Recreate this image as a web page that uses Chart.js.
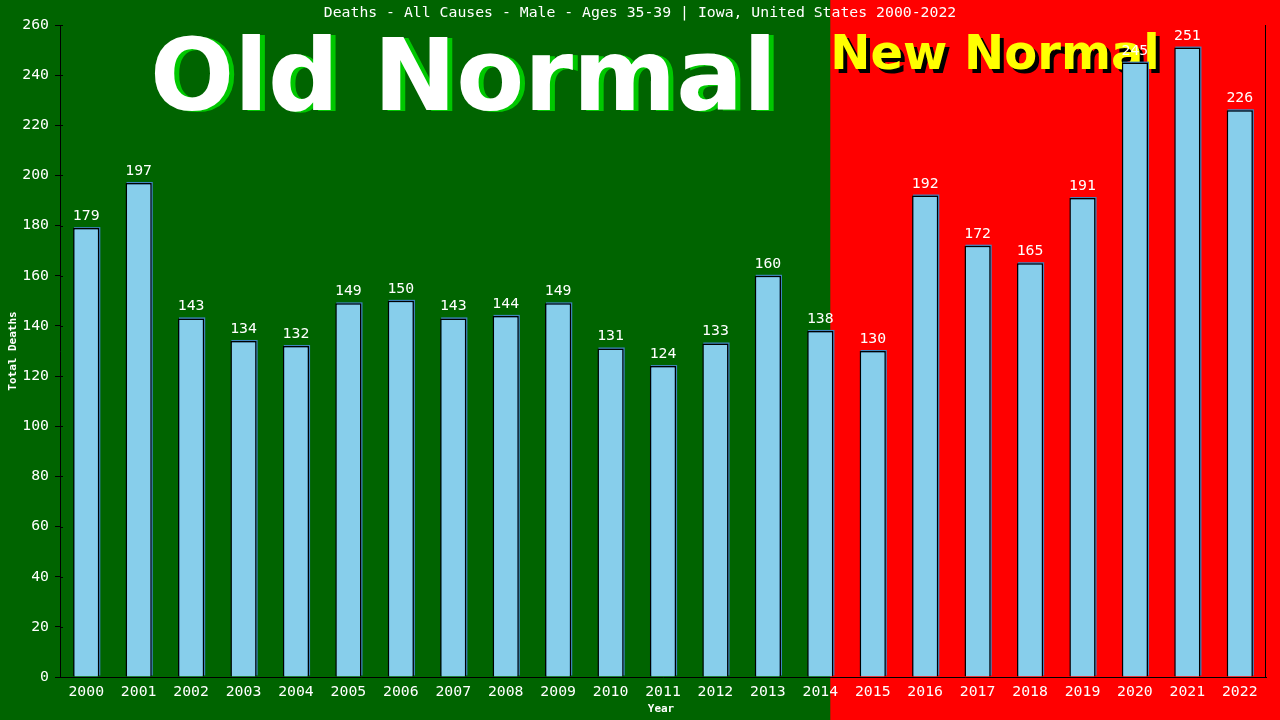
<!DOCTYPE html>
<html lang="en">
<head>
  <meta charset="UTF-8">
  <title>Deaths - All Causes - Male - Ages 35-39 | Iowa</title>
  <script src="https://cdn.jsdelivr.net/npm/chart.js"></script>
  <style>
    html, body { margin:0; padding:0; background:#006400; }
    canvas { display:block; }
  </style>
</head>
<body>
  <canvas id="grafMuertes" width="1280" height="720"></canvas>

  <script>
    /* ---------- Datos ---------- */
    const years  = ['2000','2001','2002','2003','2004','2005','2006','2007','2008','2009','2010',
                    '2011','2012','2013','2014','2015','2016','2017','2018','2019','2020','2021','2022'];
    const deaths = [179,197,143,134,132,149,150,143,144,149,131,
                    124,133,160,138,130,192,172,165,191,245,251,226];
    const titulo = 'Deaths - All Causes - Male - Ages 35-39 | Iowa, United States 2000-2022';
    const lastOldYear = 14;   // índice de 2014

    const MONO = '"DejaVu Sans Mono", "Liberation Mono", monospace';
    const BOLD = '"DejaVu Sans", Verdana, sans-serif';

    /* ---------- Fondo + textos grandes ---------- */
    const fondo = {
      id: 'fondo',
      beforeDraw (chart) {
        const { ctx, width, height, scales:{ x } } = chart;
        const split = x.getPixelForValue(lastOldYear) + 10;
        ctx.save();
        ctx.fillStyle = '#006400';
        ctx.fillRect(0, 0, split, height);
        ctx.fillStyle = '#ff0000';
        ctx.fillRect(split, 0, width - split, height);

        // Old Normal
        ctx.font = 'bold 99px ' + BOLD;
        ctx.textBaseline = 'alphabetic';
        ctx.textAlign = 'left';
        ctx.fillStyle = '#00c800';
        ctx.fillText('Old Normal', 155, 111);
        ctx.fillStyle = '#ffffff';
        ctx.fillText('Old Normal', 150, 110);

        // New Normal
        ctx.font = 'bold 48px ' + BOLD;
        ctx.fillStyle = '#000000';
        ctx.fillText('New Normal', split + 4, 73);
        ctx.fillStyle = '#ffff00';
        ctx.fillText('New Normal', split, 69);

        // título
        ctx.font = '14.8px ' + MONO;
        ctx.textAlign = 'center';
        ctx.textBaseline = 'middle';
        ctx.fillStyle = '#ffffff';
        ctx.fillText(titulo, 640, 13);

        // títulos de ejes
        ctx.font = 'bold 11px ' + MONO;
        ctx.fillText('Year', 661, 709);
        ctx.translate(13, 351);
        ctx.rotate(-Math.PI / 2);
        ctx.fillText('Total Deaths', 0, 0);
        ctx.restore();
      },
      beforeDatasetsDraw (chart) {
        // sombra azul de cada barra (arriba / derecha)
        const { ctx } = chart;
        ctx.save();
        ctx.fillStyle = '#3f86c0';
        chart.getDatasetMeta(0).data.forEach(bar => {
          const { x, y, base, width } = bar.getProps(['x','y','base','width'], true);
          ctx.fillRect(x - width / 2 + 1, y - 1, width, base - y);
        });
        ctx.restore();
      },
      afterDatasetsDraw (chart) {
        const { ctx, chartArea, scales:{ y } } = chart;
        ctx.save();
        ctx.strokeStyle = '#000000';
        ctx.lineWidth = 1;
        ctx.beginPath();
        // línea derecha
        const r = Math.round(chartArea.right) - 0.5;
        ctx.moveTo(r, chartArea.top);
        ctx.lineTo(r, chartArea.bottom);
        // ticks que cruzan el eje y
        const l = Math.round(chartArea.left);
        y.ticks.forEach(t => {
          const py = Math.round(y.getPixelForValue(t.value)) + 0.5;
          ctx.moveTo(l, py);
          ctx.lineTo(l + 3, py);
        });
        // eje x se prolonga a la izquierda
        const b = Math.round(chartArea.bottom) + 0.5;
        ctx.moveTo(l - 5, b);
        ctx.lineTo(l, b);
        ctx.stroke();

        // etiquetas de valor
        ctx.font = '14.8px ' + MONO;
        ctx.fillStyle = '#ffffff';
        ctx.textAlign = 'center';
        ctx.textBaseline = 'alphabetic';
        chart.getDatasetMeta(0).data.forEach((bar, i) => {
          ctx.fillText(String(deaths[i]), bar.x, bar.y - 8);
        });
        ctx.restore();
      }
    };

    /* ---------- Gráfico ---------- */
    new Chart(document.getElementById('grafMuertes'), {
      type : 'bar',
      data : {
        labels   : years,
        datasets : [{
          label           : 'Total Deaths',
          data            : deaths,
          backgroundColor : '#87ceeb',
          borderColor     : '#000000',
          borderWidth     : 1.5,
          borderSkipped   : 'bottom',
          barPercentage   : 0.5,
          categoryPercentage : 1
        }]
      },
      options: {
        responsive:false, maintainAspectRatio:false, animation:false,
        devicePixelRatio: 1,
        layout: { padding: { top:25, right:14, left:0, bottom:0 } },
        plugins: { legend:{ display:false }, title:{ display:false }, tooltip:{ enabled:false } },
        scales: {
          x: {
            offset: true,
            grid:   { display:true, drawOnChartArea:false, drawTicks:false },
            border: { display:true, color:'#000000', width:1 },
            ticks:  { color:'#ffffff', font:{ family:MONO, size:14.8 }, padding:6, maxRotation:0, autoSkip:false },
            afterFit: s => { s.height = 43; }
          },
          y: {
            min:0, max:260,
            grid:   { display:true, drawOnChartArea:false, drawTicks:true, tickLength:5, tickColor:'#000000' },
            border: { display:true, color:'#000000', width:1 },
            ticks:  { stepSize:20, color:'#ffffff', font:{ family:MONO, size:14.8 }, padding:6 },
            afterFit: s => { s.width = 60; }
          }
        }
      },
      plugins: [fondo]
    });
  </script>
</body>
</html>
